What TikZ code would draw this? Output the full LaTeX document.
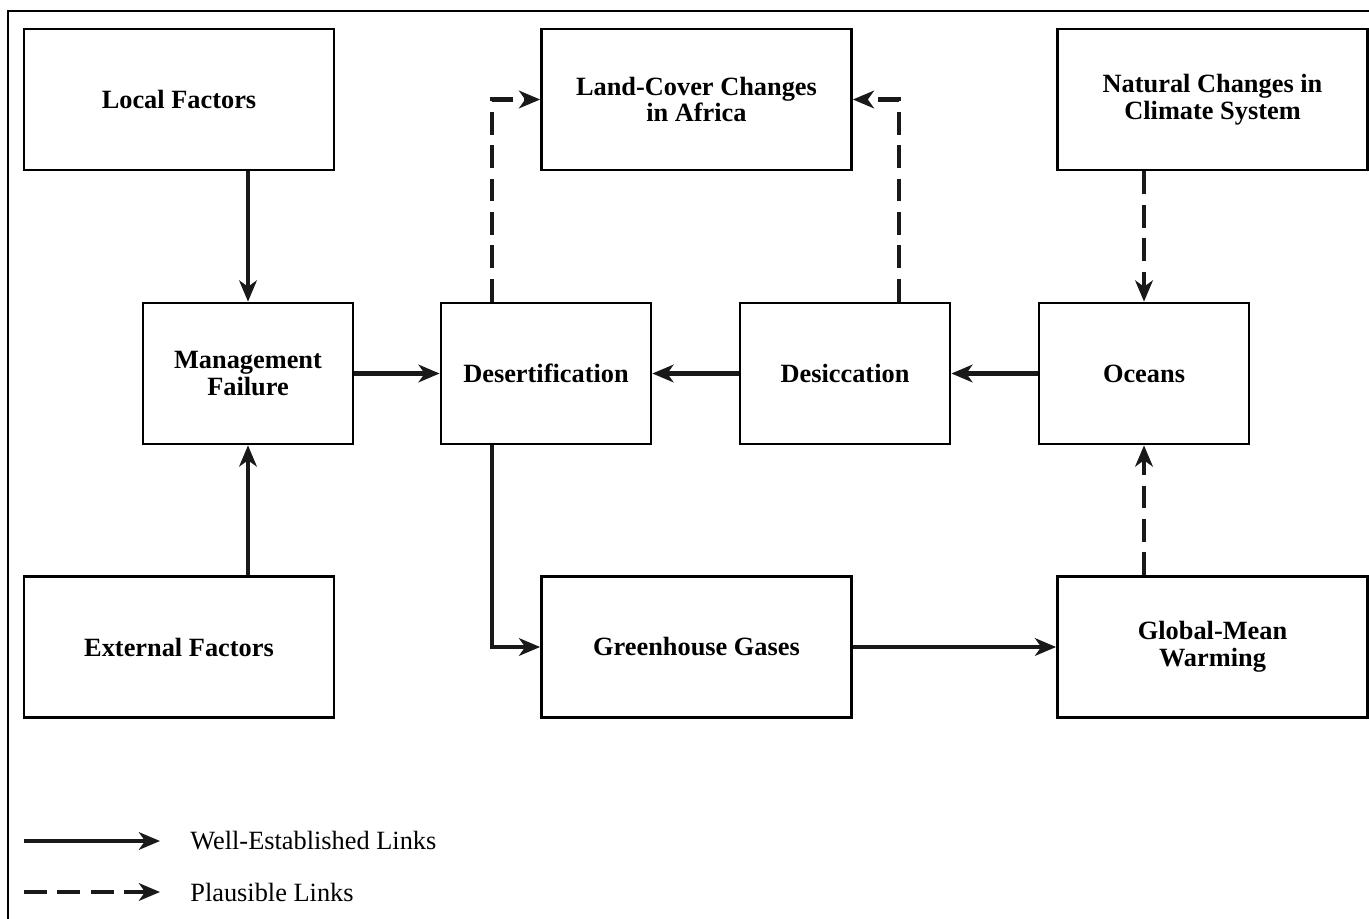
\documentclass[tikz,border=0pt]{standalone}
\usepackage{fontspec}
\setmainfont{Liberation Serif}
\usepackage{tikz}
\usetikzlibrary{positioning,arrows.meta}

\begin{document}
\begin{tikzpicture}[
    x=0.02cm, y=-0.02cm,
    every node/.style={font=\fontsize{15}{15.2}\selectfont},
    bigbox/.style={draw, line width=1.6pt, minimum width=6.2cm,
                   minimum height=2.82cm, align=center, font=\fontsize{15}{15.2}\selectfont\bfseries},
    midbox/.style={bigbox, minimum width=4.2cm},
    link/.style={-{Stealth[length=12pt, width=10pt, inset=3.5pt]}, line width=2.3pt,
                 draw=black!90},
    maybe/.style={link, dash pattern=on 13pt off 6pt},
    legend/.style={anchor=west, inner sep=0pt},
]
\useasboundingbox (0,0) rectangle (1369,919);
\draw[line width=1.6pt] (8,919) -- (8,11) -- (1369,11);

% Top row
\node[bigbox] (local) at (179,99.5) {Local Factors};
\node[bigbox] (land) at (696.5,99.5) {Land-Cover Changes\\in Africa};
\node[bigbox] (natural) at (1212.5,99.5) {Natural Changes in\\Climate System};

% Middle row
\node[midbox] (mgmt) at (248,373.5) {Management\\Failure};
\node[midbox] (desert) at (546,373.5) {Desertification};
\node[midbox] (desic) at (845,373.5) {Desiccation};
\node[midbox] (oceans) at (1144,373.5) {Oceans};

% Bottom row
\node[bigbox] (external) at (179,647) {External Factors};
\node[bigbox] (ghg) at (696.5,647) {Greenhouse Gases};
\node[bigbox] (warming) at (1212.5,647) {Global-Mean\\Warming};

% Well-established links
\draw[link] (local.south -| mgmt.north) -- (mgmt);
\draw[link] (external.north -| mgmt.south) -- (mgmt);
\draw[link] (mgmt) -- (desert);
\draw[link] (desic) -- (desert);
\draw[link] (oceans) -- (desic);
\draw[link] ([xshift=-1.08cm]desert.south) |- (ghg.west);
\draw[link] (ghg) -- (warming);

% Plausible links
\draw[maybe] (natural.south -| oceans.north) -- (oceans);
\draw[maybe] (warming.north -| oceans.south) -- (oceans);
\draw[maybe] ([xshift=-1.08cm]desert.north) |- (land.west);
\draw[maybe] ([xshift=1.08cm]desic.north) |- (land.east);

% Legend
\coordinate (solidA) at (24,841);
\coordinate (solidB) at (160,841);
\coordinate (dashA) at (24,892);
\coordinate (dashB) at (160,892);
\draw[link] (solidA) -- (solidB);
\draw[maybe] (dashA) -- (dashB);
\node[legend] (solidtxt) at (190,841) {Well-Established Links};
\node[legend] (dashtxt) at (190,892) {Plausible Links};
\end{tikzpicture}
\end{document}
